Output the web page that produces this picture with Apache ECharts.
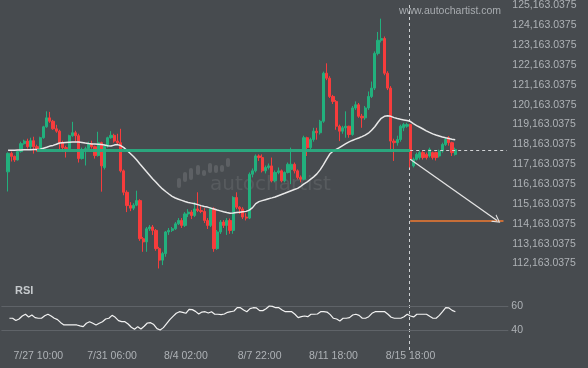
<!DOCTYPE html>
<html><head><meta charset="utf-8">
<script src="https://cdn.jsdelivr.net/npm/echarts@6/dist/echarts.min.js"></script>
<style>html,body{margin:0;padding:0;background:#474b4f;}#c{width:588px;height:368px;}</style>
</head><body><div id="c"></div>
<script>
const opens = [
116780,117710,117560,117380,117800,118200,118330,118050,118350,118050,
117950,118500,119050,119500,119330,118950,118830,118250,118000,117950,
118600,118750,118600,117450,117900,117950,118200,118050,117600,118250,
117000,118080,118500,118620,118330,118250,116830,115750,115080,114950,
115100,115330,113410,113250,113910,114000,113830,112910,112330,112660,
113750,113830,113910,114160,114330,114080,114660,114750,114580,114910,
114830,114780,114330,114080,114910,112910,113750,114250,114080,114330,
113830,115490,115000,114910,114500,114450,116660,116830,117580,117500,
116830,117000,117080,116330,116750,116830,116330,116750,116900,117160,
116830,116500,116410,118500,118000,118410,118830,118750,119330,121750,
121500,120580,120330,119080,118830,119000,119080,118660,120000,120160,
119580,119500,120000,120580,121000,122750,123410,123500,121750,121000,
118330,118250,118410,119000,119080,119160,117080,117410,117500,117750,
117660,117580,117750,117750,117580,117830,118160,118500,118250,117660];
const closes = [
117710,117560,117380,117800,118200,118330,118050,118350,118050,117950,
118500,119050,119500,119330,118950,118830,118250,118000,117950,118600,
118750,118600,117450,117900,117950,118200,118050,117600,118250,117080,
118080,118500,118620,118330,118250,116830,115750,115080,114950,115100,
115330,113410,113250,113910,114000,113830,112910,112330,112660,113750,
113830,113910,114160,114330,114080,114660,114750,114580,114910,114830,
114780,114330,114080,114910,112910,113750,114250,114080,114330,113830,
115490,115000,114910,114500,114450,116660,116830,117580,117500,116830,
117000,117080,116330,116750,116830,116330,116750,117160,117160,116830,
116500,116410,118500,118000,118410,118830,118750,119330,121750,121500,
120580,120330,119080,118830,119000,119080,118660,120000,120160,119580,
119500,120000,120580,121000,122750,123410,123500,121750,121000,118330,
118250,118410,119080,119160,119160,117410,117410,117660,117750,117500,
117500,117910,117500,117500,117830,118160,118410,118250,117750,117910];
const lows = [
115790,117300,117280,117350,117750,118150,117950,117900,117700,117800,
117900,118450,119000,119250,118900,118750,117900,117800,117500,117900,
118550,118300,117250,117400,117100,117900,117950,117450,117550,115780,
116900,118000,118450,118250,118150,116750,115600,114750,114800,114850,
115050,113300,112750,112750,113800,113600,112800,111910,112080,112500,
113600,113750,113850,114100,113950,114000,114500,114400,114500,114750,
114700,114200,113900,114000,112750,112850,113650,113950,113600,113660,
113660,114900,114660,114400,114330,114400,116500,116750,117330,116750,
116700,116900,116250,116250,116660,116250,116250,116700,116160,116700,
116400,116250,116350,117580,117900,118300,118400,118660,119250,121400,
120500,120200,118900,118330,118700,118500,118500,118600,119900,119500,
119000,119400,119900,120500,120900,122650,123300,121650,120900,117830,
117330,118100,118300,118830,119000,117000,117000,117350,117400,117400,
117400,117500,117400,117350,117500,117750,118080,118100,117580,117600];
const highs = [
117760,117800,117600,117850,118300,118400,118450,118500,118550,118150,
118550,119100,119830,119800,119400,119150,118900,118350,118100,118650,
119300,118850,118700,118000,118050,118300,118350,118100,118800,118300,
118150,118550,118830,118700,118700,118950,116900,115850,115250,115200,
115830,115400,113500,114000,114100,114100,113900,113000,112750,113800,
113950,114000,114250,114450,114450,114750,114900,114850,115250,115750,
115100,114950,114450,115000,115000,113850,114350,114350,114450,114430,
115550,115750,115050,115000,114700,116750,116950,117660,117660,117660,
117100,117200,117500,116850,117000,116900,116800,117250,118000,117250,
116900,116600,118600,118550,118500,119000,119000,119400,121830,122250,
121600,120660,120400,119160,119100,119830,119100,120100,120330,120250,
119700,120100,120830,121330,122850,123830,124500,123600,121850,121100,
118450,118600,119160,119250,119250,119200,117500,117750,117850,117830,
117750,118000,117800,117800,117900,118250,118500,118580,118300,118000];
const maValues = [
117863,117868,117873,117878,117883,117888,117893,117898,117903,117908,
117918,117968,118018,118078,118113,118168,118233,118248,118258,118268,
118278,118288,118288,118258,118228,118203,118188,118178,118168,118153,
118128,118098,118078,118128,118153,118103,118003,117853,117703,117553,
117378,117178,116988,116793,116608,116418,116253,116078,115918,115788,
115663,115543,115463,115398,115343,115288,115238,115203,115168,115128,
115078,115038,115003,114953,114903,114853,114813,114768,114728,114693,
114708,114728,114748,114768,114788,114853,114978,115178,115278,115328,
115378,115428,115468,115513,115578,115638,115698,115763,115828,115888,
115948,116053,116178,116278,116403,116528,116678,116878,117128,117403,
117678,117818,117913,118003,118103,118203,118293,118363,118428,118488,
118553,118628,118728,118878,119053,119278,119478,119578,119603,119578,
119513,119468,119428,119398,119368,119328,119213,119113,119028,118938,
118848,118768,118693,118638,118588,118538,118498,118463,118428,118398];
const rsiValues = [
49.9,49.9,48,49.3,51.8,53.2,51,52.6,50.4,49.9,
49.9,52,53.2,51.8,49.9,48.8,46.3,44.4,44.4,44.4,
44.4,44.4,43.6,43,45.8,47.1,45.8,44.4,45.8,47.1,
49.3,49.9,52.3,50.7,48,47.1,47.1,45.2,42.5,40.8,
43,41.1,43.3,46,46.3,44.7,41.4,40.3,42.2,45.5,
48.8,51.5,54,55.3,54.8,54,57.3,57,55.6,53.4,
55,55.3,54.2,55.3,53.2,53.2,52.9,53.4,54.8,55.3,
55.9,58.6,58.6,56.7,55.3,57.8,58.6,58.4,56.2,56.2,
57.8,60,59.7,58.6,58.6,56.7,55.3,55.3,55.3,53.2,
50.4,51.2,51.8,51.2,53.2,53.2,53.4,55.3,55.3,55,
52.9,49.9,49.3,47.7,49.9,49.9,50.4,52.6,53.2,52.3,
49.9,49.9,51.2,54,55.3,55.3,55.3,55.3,53.2,50.7,
49.9,49.9,49.9,51.2,53.2,51.8,51,53.2,53.2,53.2,
53.2,51.5,49.9,49.9,52.3,55.3,58.6,58.4,56.4,55.3];
const tickLabels = ['7/27 10:00','7/31 06:00','8/4 02:00','8/7 22:00','8/11 18:00','8/15 18:00'];
const tickSlots = [11,34,57,80,103,127];
const leadSlots = 2, trailSlots = 16;
const supportLevel = 117863;
const targetLevel = 114328;
const patternEnd = 117413;
const supportFrom = 11, markSlot = 127, arrowSlot = 154, targetEnd = 156;
const priceMin = 111163.0375, priceMax = 125163.0375, priceStep = 1000;
const rsiTicks = [40, 60];

const total = leadSlots + opens.length + trailSlots;
const cats = Array.from({length: total}, (_, k) => String(k));
const pad = (arr) => [...Array(leadSlots).fill('-'), ...arr];
const candles = pad(opens.map((o, i) => [o, closes[i], lows[i], highs[i]]));

const font = 'Liberation Sans, Arial, sans-serif';
const lblColor = '#aeb2b6';
const fmtPrice = v => {
  if (v < priceMin + priceStep / 2) return '';
  const n = Math.round(v - 0.0375);
  return String(n).replace(/\B(?=(\d{3})+(?!\d))/g, ',') + '.0375';
};
const gridW = 508.3;
const chart = echarts.init(document.getElementById('c'), null, {renderer: 'canvas'});
const logoBars = [[177,178,10],[183,172,10],[189,168,12],[196,165,10],[202,170,6],[208,163,10],[214,165,8],[220,165,7],[226,158,9]];
const option = {
  backgroundColor: '#474b4f',
  animation: false,
  grid: [
    {left: 0, width: gridW, top: 3.3, height: 280},
    {left: 0, width: gridW, top: 306, height: 24.3}
  ],
  xAxis: [
    {type: 'category', gridIndex: 0, data: cats, boundaryGap: true,
     axisLine: {show: false}, axisTick: {show: false}, axisLabel: {show: false}, splitLine: {show: false}},
    {type: 'category', gridIndex: 1, data: cats, boundaryGap: true,
     axisLine: {show: false}, axisTick: {show: false}, splitLine: {show: false},
     axisLabel: {show: true, interval: 0, margin: 20, color: lblColor, fontSize: 10.5, fontFamily: font,
       formatter: (v, idx) => { const p = tickSlots.indexOf(idx); return p >= 0 ? tickLabels[p] : ''; }}}
  ],
  yAxis: [
    {type: 'value', gridIndex: 0, position: 'right', min: priceMin, max: priceMax, interval: priceStep,
     axisLine: {show: false}, axisTick: {show: false}, splitLine: {show: false},
     axisLabel: {color: lblColor, fontSize: 10.5, fontFamily: font, margin: 4, formatter: fmtPrice}},
    {type: 'value', gridIndex: 1, position: 'right', min: rsiTicks[0], max: rsiTicks[1], interval: rsiTicks[1] - rsiTicks[0],
     axisLine: {show: false}, axisTick: {show: false},
     splitLine: {show: true, lineStyle: {color: '#5f6368', width: 1}},
     axisLabel: {color: lblColor, fontSize: 10.5, fontFamily: font, margin: 3}}
  ],
  series: [
    {type: 'candlestick', xAxisIndex: 0, yAxisIndex: 0, data: candles, barWidth: 2.7,
     itemStyle: {color: '#22b07d', color0: '#f73c3c', borderColor: '#22b07d', borderColor0: '#f73c3c', borderWidth: 1},
     markLine: {silent: true, animation: false, symbol: ['none', 'none'], label: {show: false},
       emphasis: {disabled: true},
       data: [
         [{coord: [String(supportFrom), supportLevel], lineStyle: {color: '#2aab80', width: 3, type: 'solid', opacity: 0.95}},
          {coord: [String(markSlot), supportLevel]}],
         [{coord: [String(markSlot), supportLevel], lineStyle: {color: '#d2d4d6', width: 1, type: [3, 3]}},
          {coord: [String(total - 1), supportLevel]}],
         [{coord: [String(markSlot), targetLevel], lineStyle: {color: '#f27a30', width: 1.5, type: 'solid'}},
          {coord: [String(targetEnd), targetLevel]}],
         [{coord: [String(markSlot), patternEnd], lineStyle: {color: '#e4e4e4', width: 1.3, type: 'solid'}, symbol: 'none'},
          {coord: [String(arrowSlot), targetLevel], symbol: 'path://M5,0 L10,9 L8.6,9 L5,2.4 L1.4,9 L0,9 Z', symbolSize: [9, 8]}]
       ]}},
    {type: 'line', xAxisIndex: 0, yAxisIndex: 0, data: pad(maValues), showSymbol: false, symbol: 'none',
     lineStyle: {color: '#e8e8e8', width: 1.5}, z: 3},
    {type: 'line', xAxisIndex: 1, yAxisIndex: 1, data: pad(rsiValues), showSymbol: false, symbol: 'none', clip: false,
     lineStyle: {color: '#f2f2f2', width: 1.2}}
  ],
  graphic: {elements: [
    {type: 'text', left: 15, top: 285, style: {text: 'RSI', fill: '#c6cacd', font: 'bold 11px ' + font}},
    {type: 'text', x: 450, y: 11, style: {text: 'www.autochartist.com', fill: '#a8acb0', font: '10.5px ' + font, textAlign: 'center', textVerticalAlign: 'middle'}},
    {type: 'text', x: 210, y: 185, z: 0, style: {text: 'autochartist', fill: 'rgba(255,255,255,0.09)', font: '20px DejaVu Sans', textVerticalAlign: 'middle'}},
    ...logoBars.map(b => ({type: 'rect', z: 0, shape: {x: b[0], y: b[1], width: 4, height: b[2], r: 2}, style: {fill: 'rgba(255,255,255,0.12)'}}))
  ]}
};
chart.setOption(option);
const vx = Math.round(chart.convertToPixel({xAxisIndex: 0}, String(markSlot))) - 0.5;
chart.setOption({graphic: {elements: [
  {id: 'vline', type: 'line', shape: {x1: vx, y1: 5, x2: vx, y2: 350}, style: {stroke: '#cfd2d4', lineWidth: 1, lineDash: [3, 3]}}
]}});
</script>
</body></html>
